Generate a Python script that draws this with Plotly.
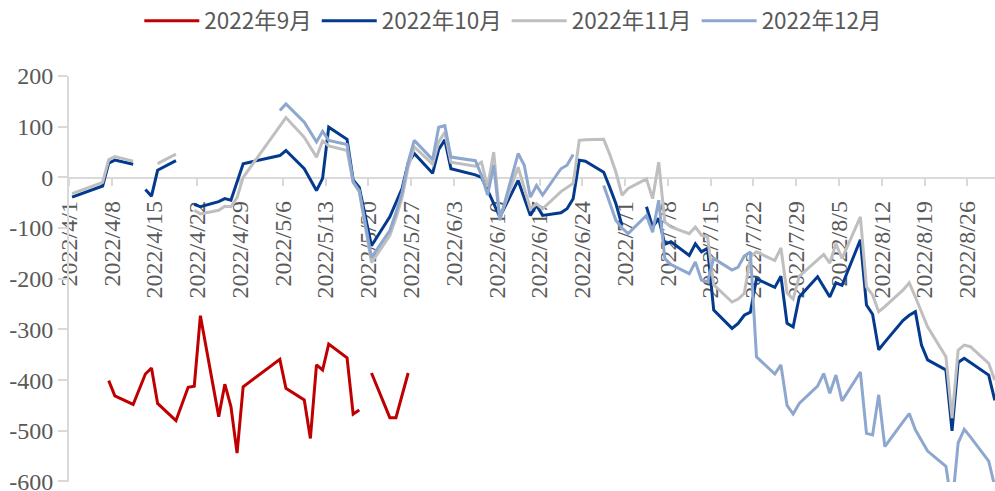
import plotly.graph_objects as go

# ---------------- data ----------------
# dates are "month/day" in 2022; None marks a gap in the series
sep_dates = ["4/7", "4/8", "4/11", "4/12", "4/13", "4/14", "4/15", "4/18", "4/19", "4/20",
             "4/21", "4/22", "4/25", "4/26", "4/27", "4/28", "4/29", "5/5", "5/6", "5/9",
             "5/10", "5/11", "5/12", "5/13", "5/16", "5/17", "5/18", "5/19", "5/20", "5/23",
             "5/24", "5/25", "5/26"]
sep_vals = [-401, -431, -448, -418, -388, -376, -446, -480, -447, -414,
            -412, -273, -472, -408, -452, -544, -413, -359, -416, -439,
            -515, -370, -380, -329, -356, -467, -459, None, -386, -474,
            -474, -430, -386]

oct_dates = ["4/1", "4/6", "4/7", "4/8", "4/11", "4/12", "4/13", "4/14", "4/15", "4/18",
             "4/19", "4/21", "4/22", "4/25", "4/26", "4/27", "4/28", "4/29", "5/5", "5/6",
             "5/9", "5/10", "5/11", "5/12", "5/13", "5/16", "5/17", "5/18", "5/19", "5/20",
             "5/23", "5/24", "5/25", "5/26", "5/27", "5/30", "5/31", "6/1", "6/2", "6/6",
             "6/7", "6/8", "6/9", "6/10", "6/13", "6/14", "6/15", "6/16", "6/17", "6/20",
             "6/21", "6/22", "6/23", "6/24", "6/27", "6/28", "6/29", "6/30", "7/1", "7/4",
             "7/5", "7/6", "7/7", "7/8", "7/11", "7/12", "7/13", "7/14", "7/15", "7/18",
             "7/19", "7/20", "7/21", "7/22", "7/25", "7/26", "7/27", "7/28", "7/29", "8/1",
             "8/2", "8/3", "8/4", "8/5", "8/8", "8/9", "8/10", "8/11", "8/12", "8/15",
             "8/16", "8/17", "8/18", "8/19", "8/22", "8/23", "8/24", "8/25", "8/26", "8/29",
             "8/30"]
oct_vals = [-39, -17, 28, 34, 26, None, -24, -37, 14, 33,
            None, -53, -58, -48, -42, -45, -10, 27, 43, 53,
            17, -5, -26, -2, 99, 75, -5, -20, -75, -135,
            -78, -50, -22, 28, 47, 8, 55, 74, 17, 5,
            0, -25, -50, -78, -6, -40, -75, -55, -75, -70,
            -62, -42, 34, 32, 10, -20, -52, -95, None, -58,
            -98, -81, -132, -127, -154, -131, -147, -140, -262, -298,
            -288, -272, -266, -200, -217, -195, -288, -295, -236, -196,
            -216, -236, -208, -213, -123, -252, -270, -340, -325, -282,
            -272, -265, -331, -360, -380, -500, -365, -357, -365, -390,
            -440]

nov_dates = ["4/1", "4/6", "4/7", "4/8", "4/11", "4/12", "4/15", "4/18", "4/19", "4/21",
             "4/22", "4/25", "4/26", "4/27", "4/28", "4/29", "5/5", "5/6", "5/9", "5/10",
             "5/11", "5/12", "5/13", "5/16", "5/17", "5/18", "5/19", "5/20", "5/23", "5/24",
             "5/25", "5/26", "5/27", "5/30", "5/31", "6/1", "6/2", "6/6", "6/7", "6/8",
             "6/9", "6/10", "6/13", "6/14", "6/15", "6/16", "6/17", "6/20", "6/21", "6/22",
             "6/23", "6/24", "6/27", "6/28", "6/29", "6/30", "7/1", "7/4", "7/5", "7/6",
             "7/7", "7/8", "7/11", "7/12", "7/13", "7/14", "7/15", "7/18", "7/19", "7/20",
             "7/21", "7/22", "7/25", "7/26", "7/27", "7/28", "7/29", "8/1", "8/2", "8/3",
             "8/4", "8/5", "8/8", "8/9", "8/10", "8/11", "8/12", "8/15", "8/16", "8/17",
             "8/18", "8/19", "8/22", "8/23", "8/24", "8/25", "8/26", "8/29", "8/30"]
nov_vals = [-32, -10, 35, 41, 32, None, 27, 46, None, -65,
            -72, -65, -57, -58, -40, 0, 100, 118, 79, 60,
            40, 72, 62, 53, -10, -28, -95, -168, -115, -80,
            -40, 20, 60, 26, 70, 89, 30, 22, 30, -19,
            50, -80, 20, -20, -62, -52, -62, -28, -20, -12,
            73, 74, 75, 45, 10, -35, -22, -3, -42, 30,
            -88, -98, -111, -98, -114, -118, -212, -246, -240, -229,
            -157, -147, -164, -139, -228, -240, -195, -162, -152, -169,
            -131, -160, -78, -216, -232, -265, -255, -222, -208, -236,
            -265, -295, -354, -475, -341, -331, -334, -367, -400]

dec_dates = ["5/5", "5/6", "5/9", "5/10", "5/11", "5/12", "5/13", "5/16", "5/17", "5/18",
             "5/19", "5/20", "5/23", "5/24", "5/25", "5/26", "5/27", "5/30", "5/31", "6/1",
             "6/2", "6/6", "6/7", "6/8", "6/9", "6/10", "6/13", "6/14", "6/15", "6/16",
             "6/17", "6/20", "6/21", "6/22", "6/23", "6/27", "6/28", "6/29", "6/30", "7/1",
             "7/4", "7/5", "7/6", "7/7", "7/8", "7/11", "7/12", "7/13", "7/14", "7/15",
             "7/18", "7/19", "7/20", "7/21", "7/22", "7/25", "7/26", "7/27", "7/28", "7/29",
             "8/1", "8/2", "8/3", "8/4", "8/5", "8/8", "8/9", "8/10", "8/11", "8/12",
             "8/15", "8/16", "8/17", "8/18", "8/19", "8/22", "8/23", "8/24", "8/25", "8/26",
             "8/29", "8/30"]
dec_vals = [132, 145, 109, 90, 70, 91, 73, 65, -9, -26,
            -90, -158, -105, -70, -30, 30, 73, 35, 99, 102,
            40, 33, 4, -35, 24, -85, 47, 24, -39, -16,
            -35, 17, 24, 45, None, -16, -50, -85, -100, -111,
            -75, -108, -45, -160, -172, -190, -167, -203, -206, -160,
            -183, -177, -155, -147, -354, -388, -370, -450, -467, -446,
            -412, -387, -426, -390, -441, -384, -505, -508, -429, -531,
            -482, -466, -498, -520, -540, -570, -650, -524, -497, -512,
            -560, -610]

series_names = ["2022年9月", "2022年10月", "2022年11月", "2022年12月"]
series_colors = ["#C00000", "#043A8E", "#BFBFBF", "#8EA7CE"]

x_tick_dates = ["4/1", "4/8", "4/15", "4/22", "4/29", "5/6", "5/13", "5/20", "5/27", "6/3",
                "6/10", "6/17", "6/24", "7/1", "7/8", "7/15", "7/22", "7/29", "8/5", "8/12",
                "8/19", "8/26"]
y_tick_vals = [-600, -500, -400, -300, -200, -100, 0, 100, 200]
y_tick_text = ["-600", "-500", "-400", "-300", "-200", "-100", "0", "100", "200"]


def iso(md, hour="00:00"):
    m, d = md.split("/")
    return f"2022-{int(m):02d}-{int(d):02d} {hour}"


all_dates = [sep_dates, oct_dates, nov_dates, dec_dates]
all_vals = [sep_vals, oct_vals, nov_vals, dec_vals]

fig = go.Figure()
for name, dts, vals, col in zip(series_names, all_dates, all_vals, series_colors):
    fig.add_trace(go.Scatter(
        x=[iso(d, "12:00") for d in dts], y=vals, name=name, mode="lines",
        line=dict(color=col, width=3), connectgaps=False, hoverinfo="skip"))

axis_col = "#D9D9D9"
tick_font = dict(family="Liberation Serif", size=24, color="#595959")

fig.update_layout(
    template="none",
    width=995, height=491,
    margin=dict(l=69, r=0, t=76, b=9, pad=0),
    paper_bgcolor="white", plot_bgcolor="white",
    font=dict(family="Liberation Serif", size=24, color="#595959"),
    showlegend=True,
    legend=dict(orientation="h", xref="container", yref="container",
                x=0.14, xanchor="left", y=1 - 21 / 491, yanchor="middle",
                font=dict(family="Noto Sans CJK SC", size=22.5, color="#595959"),
                itemwidth=55, tracegroupgap=0, bgcolor="rgba(0,0,0,0)"),
)
fig.update_xaxes(type="date",
                 range=["2022-04-01 00:00", "2022-08-30 12:45"],
                 tickvals=[iso(d) for d in x_tick_dates],
                 ticktext=["2022/" + d for d in x_tick_dates],
                 tickangle=-90, anchor="free", position=0.75,
                 showline=True, linecolor=axis_col, linewidth=2,
                 ticks="outside", ticklen=7, tickwidth=2, tickcolor=axis_col,
                 ticklabelstandoff=6,
                 showgrid=False, zeroline=False, automargin=False,
                 layer="below traces", tickfont=tick_font)
fig.update_yaxes(range=[-601, 200], tickvals=y_tick_vals, ticktext=y_tick_text,
                 showline=True, linecolor=axis_col, linewidth=2, ticklabeloverflow="allow",
                 ticks="outside", ticklen=9, tickwidth=2, tickcolor=axis_col,
                 showgrid=False, zeroline=False, automargin=False,
                 tickfont=tick_font)

fig.write_html("out.html")
